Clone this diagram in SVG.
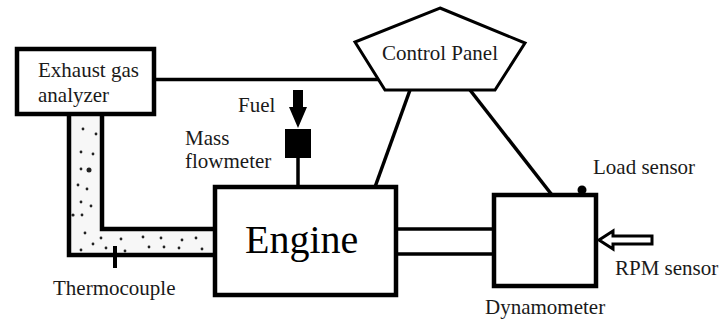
<svg xmlns="http://www.w3.org/2000/svg" width="725" height="325" viewBox="0 0 725 325" font-family="Liberation Serif, Times New Roman, DejaVu Serif, serif">
<style>
.box{fill:#fff;stroke:#000;stroke-width:4.5}
.ln{fill:none;stroke:#000;stroke-width:3.5}
.pipe{fill:none;stroke:#000;stroke-width:4.5}
.t{font-family:'Liberation Serif','Times New Roman','DejaVu Serif',serif;font-size:21px;fill:#1a1a1a}
.big{font-size:40px;fill:#000}
.dot{fill:#222}
</style>
<rect width="725" height="325" fill="#fff"/>
<g id="connectors">
<line class="ln" x1="154" y1="79.5" x2="379" y2="79.5"/>
<line class="ln" x1="410" y1="90" x2="375" y2="187"/>
<line class="ln" x1="470" y1="90" x2="552" y2="195"/>
<line class="ln" x1="298" y1="158" x2="298" y2="187"/>
<line class="ln" x1="396" y1="229" x2="494" y2="229"/>
<line class="ln" x1="396" y1="254" x2="494" y2="254"/>
</g>
<g id="exhaust-pipe">
<path d="M69,114 V255 H215 V229 H102 V114 Z" fill="#f7f7f7" stroke="none"/>
<path class="pipe" d="M69,114 V255 H215"/>
<path class="pipe" d="M102,114 V229 H215"/>
<g class="dot">
<circle cx="83" cy="129" r="1.4"/><circle cx="96" cy="134" r="1.4"/><circle cx="81" cy="152" r="1.4"/><circle cx="93" cy="154" r="1.4"/>
<circle cx="81" cy="169" r="1.4"/><circle cx="89" cy="170" r="2.5"/><circle cx="78" cy="185" r="1.4"/><circle cx="87" cy="189" r="1.4"/>
<circle cx="81" cy="202" r="1.4"/><circle cx="91" cy="206" r="1.4"/><circle cx="73" cy="215" r="1.6"/><circle cx="82" cy="215" r="1.4"/>
<circle cx="85" cy="233" r="1.4"/><circle cx="101" cy="238" r="1.4"/><circle cx="93" cy="244" r="1.4"/><circle cx="106" cy="248" r="1.4"/>
<circle cx="81" cy="250" r="1.4"/><circle cx="121" cy="239" r="1.4"/><circle cx="125" cy="251" r="1.4"/><circle cx="143" cy="237" r="1.4"/>
<circle cx="149" cy="247" r="1.4"/><circle cx="161" cy="238" r="1.4"/><circle cx="164" cy="247" r="1.4"/><circle cx="182" cy="240" r="1.4"/>
<circle cx="179" cy="248" r="1.4"/><circle cx="196" cy="238" r="1.4"/><circle cx="202" cy="249" r="1.4"/>
</g>
</g>
<g id="thermocouple">
<line x1="115" y1="246" x2="115" y2="268" stroke="#000" stroke-width="4"/>
<text class="t" x="53" y="295">Thermocouple</text>
</g>
<g id="analyzer">
<rect class="box" x="17" y="49" width="137" height="65"/>
<text class="t" x="38" y="77">Exhaust gas</text>
<text class="t" x="38" y="102">analyzer</text>
</g>
<g id="control-panel">
<polygon points="440,8 525,43 495,90 385,90 355,42" fill="#fff" stroke="#000" stroke-width="3"/>
<text class="t" x="440" y="60" text-anchor="middle">Control Panel</text>
</g>
<g id="fuel">
<polygon points="293,90 303,90 303,107 307,107 298,128 289,107 293,107" fill="#000"/>
<text class="t" x="238" y="112">Fuel</text>
</g>
<g id="flowmeter">
<rect x="285" y="129" width="26" height="29" fill="#000"/>
<text class="t" x="185" y="145">Mass</text>
<text class="t" x="185" y="168">flowmeter</text>
</g>
<g id="engine">
<rect class="box" x="215" y="187" width="181" height="108"/>
<text class="t big" x="245" y="253">Engine</text>
</g>
<g id="dynamometer">
<rect class="box" x="494" y="195" width="102" height="91"/>
<text class="t" x="485" y="314">Dynamometer</text>
</g>
<g id="load-sensor">
<circle cx="582" cy="190" r="4.5" fill="#000"/>
<text class="t" x="593" y="174">Load sensor</text>
</g>
<g id="rpm-sensor">
<polygon points="599,240 613,231 613,236 652,236 652,244 613,244 613,249" fill="#fff" stroke="#000" stroke-width="3" stroke-linejoin="miter"/>
<text class="t" x="615" y="275">RPM sensor</text>
</g>
</svg>
